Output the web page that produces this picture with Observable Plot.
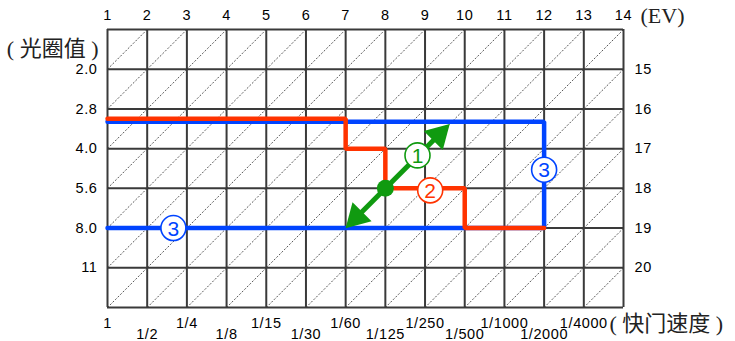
<!DOCTYPE html>
<html><head><meta charset="utf-8">
<script src="https://cdn.jsdelivr.net/npm/d3@7"></script>
<script src="https://cdn.jsdelivr.net/npm/@observablehq/plot@0.6"></script>
<style>html,body{margin:0;padding:0;background:#fff;overflow:hidden}
g[font-size="14.5"] text{letter-spacing:0.6px}</style>
</head><body><div id="chart"></div>
<script>
// x = shutter-speed stop index (0 = 1s), y = aperture stop index (0 = top edge)
const evTop = [1,2,3,4,5,6,7,8,9,10,11,12,13,14];
const shutterLabels = ["1","1/2","1/4","1/8","1/15","1/30","1/60","1/125","1/250","1/500","1/1000","1/2000","1/4000"];
const apertureLabels = ["2.0","2.8","4.0","5.6","8.0","11"];
const evRight = [15,16,17,18,19,20];
const apertureTitle = "( 光圈值 )";
const shutterTitle = "( 快门速度 )";
const evTitle = "(EV)";

const redPath  = [[0,2.25],[6,2.25],[6,3],[7,3],[7,4],[9,4],[9,5],[11,5]];
const bluePath = [[0,2.32],[11,2.32],[11,5],[0,5]];
const arrowFrom = [6,5];
const arrowCenter = [7,4];
const arrowTo = [8.62,2.38];
const badgeLabels = ["1","2","3","3"];
const badgeSeries = ["green","red","blue","blue"];
const badgeX = [7.81, 8.13, 11, 1.66];
const badgeY = [3.17, 4.05, 3.53, 5];

const colors = {red:"#ff3300", blue:"#0044ff", green:"#109a10"};
const SANS = "'Liberation Sans', Arial, sans-serif";
const MIX = "'Liberation Serif','Noto Sans CJK SC', serif";
const FS = 14.5;

const cols = d3.range(13), rows = d3.range(7);
const cells = d3.cross(cols, rows);

const badges = badgeLabels.map((t,i)=>({t, x:badgeX[i], y:badgeY[i], c:colors[badgeSeries[i]]}));
const shutter = shutterLabels.map((t,i)=>({t,i}));

function shrink(a, b, k){ const dx=b[0]-a[0], dy=b[1]-a[1], L=Math.hypot(dx,dy); return [b[0]-dx/L*k, b[1]-dy/L*k]; }
const shaftA = shrink(arrowCenter, arrowFrom, 0.3);
const shaftB = shrink(arrowCenter, arrowTo, 0.3);

const chart = Plot.plot({
  width: 735, height: 341,
  marginLeft: 107, marginRight: 112, marginTop: 29, marginBottom: 34,
  x: {domain:[0,13], axis:null},
  y: {domain:[0,7], reverse:true, axis:null},
  style: {background:"#fff", overflow:"visible"},
  marks: [
    Plot.link(cells, {x1:d=>d[0], y1:d=>d[1]+1, x2:d=>d[0]+1, y2:d=>d[1], stroke:"#444", strokeWidth:0.9, strokeDasharray:"2,1.6"}),
    Plot.ruleX(d3.range(14), {x:d=>d, y1:0, y2:7, stroke:"#3a3a3a", strokeWidth:2}),
    Plot.ruleY(d3.range(8), {y:d=>d, x1:0, x2:13, stroke:"#3a3a3a", strokeWidth:2}),
    Plot.line(bluePath, {x:d=>d[0], y:d=>d[1], stroke:colors.blue, strokeWidth:4.5, strokeLinejoin:"miter", strokeLinecap:"round"}),
    Plot.line(redPath, {x:d=>d[0], y:d=>d[1], stroke:colors.red, strokeWidth:4.5, strokeLinejoin:"miter", strokeLinecap:"round"}),
    Plot.link([0], {x1:()=>shaftA[0], y1:()=>shaftA[1], x2:()=>shaftB[0], y2:()=>shaftB[1], stroke:colors.green, strokeWidth:5}),
    Plot.dot([arrowTo], {x:d=>d[0], y:d=>d[1], symbol:"triangle", r:10, fill:colors.green, rotate:45, dx:-10.9, dy:10.9}),
    Plot.dot([arrowFrom], {x:d=>d[0], y:d=>d[1], symbol:"triangle", r:10, fill:colors.green, rotate:225, dx:10.9, dy:-10.9}),
    Plot.dot([arrowCenter], {x:d=>d[0], y:d=>d[1], r:8.5, fill:colors.green}),
    Plot.dot(badges, {x:"x", y:"y", r:12.5, fill:"white", stroke:d=>d.c, strokeWidth:1.6}),
    Plot.text(badges, {x:"x", y:"y", text:"t", fill:d=>d.c, fontSize:21, fontFamily:SANS, dy:1}),
    Plot.text(evTop, {x:(d,i)=>i, y:()=>0, dy:-14, text:d=>String(d), fontSize:FS, fontFamily:SANS, fill:"#000"}),
    Plot.text(apertureLabels, {x:()=>0, y:(d,i)=>i+1, dx:-10, text:d=>d, textAnchor:"end", fontSize:FS, fontFamily:SANS, fill:"#000"}),
    Plot.text(evRight, {x:()=>13, y:(d,i)=>i+1, dx:11, text:d=>String(d), textAnchor:"start", fontSize:FS, fontFamily:SANS, fill:"#000"}),
    Plot.text(shutter.filter(d=>d.i%2===0), {x:"i", y:()=>7, dy:16, text:"t", fontSize:FS, fontFamily:SANS, fill:"#000"}),
    Plot.text(shutter.filter(d=>d.i%2===1), {x:"i", y:()=>7, dy:27, text:"t", fontSize:FS, fontFamily:SANS, fill:"#000"}),
    Plot.text([apertureTitle], {x:()=>0, y:()=>0.5, dx:-9, text:d=>d, textAnchor:"end", fontSize:22, fontFamily:MIX, fill:"#222"}),
    Plot.text([shutterTitle], {x:()=>13, y:()=>7, dx:-14, dy:16, text:d=>d, textAnchor:"start", fontSize:22, fontFamily:MIX, fill:"#222"}),
    Plot.text([evTitle], {x:()=>13, y:()=>0, dx:17, dy:-14, text:d=>d, textAnchor:"start", fontSize:22, fontFamily:MIX, fill:"#222"})
  ]
});
document.getElementById("chart").appendChild(chart);
</script>
</body></html>
